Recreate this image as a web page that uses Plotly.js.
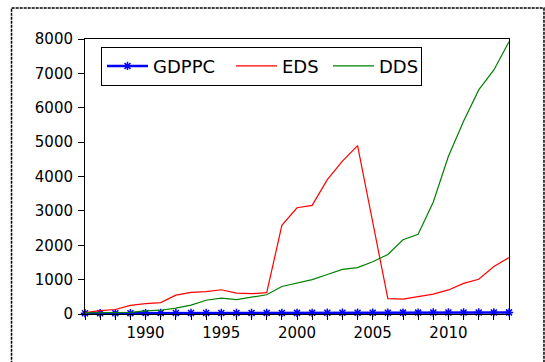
<!DOCTYPE html>
<html>
<head>
<meta charset="utf-8">
<script src="https://cdn.plot.ly/plotly-3.0.1.min.js"></script>
<style>html,body{margin:0;padding:0;background:#fff;}#chart{width:545px;height:362px;}</style>
</head>
<body>
<div id="chart"></div>
<script>
var years = [1986,1987,1988,1989,1990,1991,1992,1993,1994,1995,1996,1997,1998,1999,2000,
             2001,2002,2003,2004,2005,2006,2007,2008,2009,2010,2011,2012,2013,2014];
var gdppc = [22,23,24,25,26,27,27,28,29,30,31,31,32,32,33,
             34,35,36,37,38,39,40,41,42,43,44,45,46,47];
var eds = [40,100,130,250,300,330,550,630,650,705,610,590,620,2580,3090,
           3160,3910,4450,4900,2660,445,435,510,580,700,890,1010,1380,1640];
var dds = [30,40,50,50,90,110,170,260,400,460,420,500,560,800,900,
           1000,1150,1300,1350,1520,1730,2160,2320,3260,4590,5610,6520,7100,7920];
var xTickVals = years;
var xTickText = years.map(function(y){ return (y % 5 === 0) ? String(y) : ''; });
var yTickVals = [0,1000,2000,3000,4000,5000,6000,7000,8000];

var font = 'DejaVu Sans, Liberation Sans, Arial, sans-serif';

var traces = [
  {x: years, y: gdppc, name: 'GDPPC', type: 'scatter', mode: 'lines+markers',
   line: {color: '#0000FF', width: 2.5},
   marker: {symbol: 'asterisk-open', size: 7, color: '#0000FF', line: {color: '#0000FF', width: 1.5}},
   cliponaxis: false, legendwidth: 73},
  {x: years, y: eds, name: 'EDS', type: 'scatter', mode: 'lines',
   line: {color: '#FF0000', width: 1.2}, legendwidth: 41},
  {x: years, y: dds, name: 'DDS', type: 'scatter', mode: 'lines',
   line: {color: '#008000', width: 1.2}, legendwidth: 37}
];

var layout = {
  width: 545, height: 362,
  margin: {l: 85, r: 36, t: 39, b: 48, pad: 0},
  paper_bgcolor: '#ffffff', plot_bgcolor: '#ffffff',
  font: {family: font, size: 15, color: '#000000'},
  showlegend: true,
  legend: {
    orientation: 'h', x: 0.0377, y: 0.972, xanchor: 'left', yanchor: 'top',
    bgcolor: '#ffffff', bordercolor: '#000000', borderwidth: 1,
    font: {family: font, size: 18, color: '#000000'},
    itemwidth: 41, tracegroupgap: 0
  },
  xaxis: {
    range: [1986, 2014], tickmode: 'array', tickvals: xTickVals, ticktext: xTickText,
    ticks: 'outside', ticklen: 5, tickwidth: 1, tickcolor: '#000000',
    showline: true, linecolor: '#000000', linewidth: 1, mirror: true,
    showgrid: false, zeroline: false,
    tickfont: {family: font, size: 15, color: '#000000'}
  },
  yaxis: {
    range: [0, 8000], tickmode: 'array', tickvals: yTickVals,
    ticks: 'outside', ticklen: 6, tickwidth: 1, tickcolor: '#000000',
    showline: true, linecolor: '#000000', linewidth: 1, mirror: true,
    showgrid: false, zeroline: false, ticklabelstandoff: 2,
    tickfont: {family: font, size: 15, color: '#000000'}
  },
  shapes: [
    {type: 'rect', xref: 'paper', yref: 'paper',
     x0: -0.1733, x1: 1.0825, y0: -0.35, y1: 1.1127,
     line: {color: '#000000', width: 1.5, dash: '3px,1px'}, fillcolor: 'rgba(0,0,0,0)', layer: 'below'}
  ]
};

Plotly.newPlot('chart', traces, layout, {staticPlot: true, displayModeBar: false});
</script>
</body>
</html>
